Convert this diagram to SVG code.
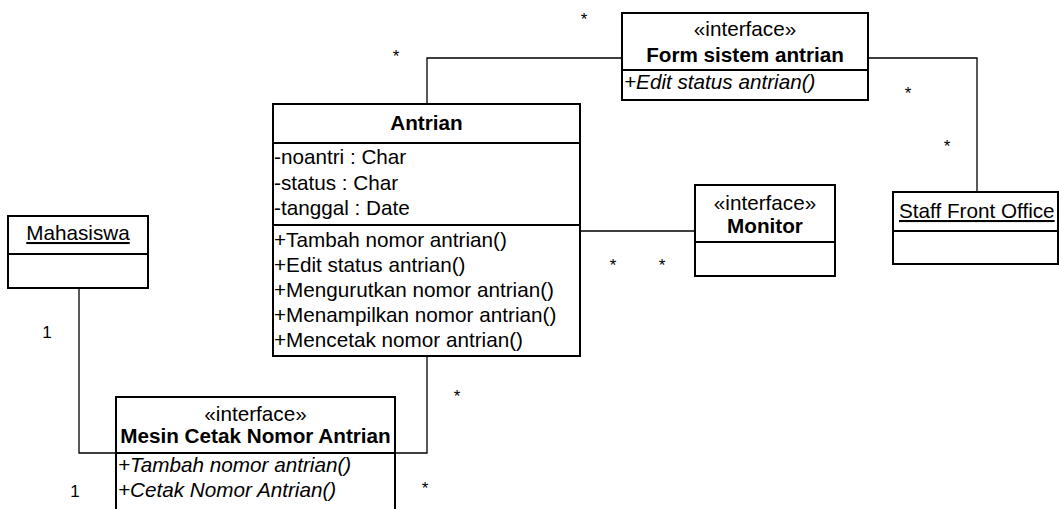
<svg xmlns="http://www.w3.org/2000/svg" width="1059" height="509" viewBox="0 0 1059 509">
<style>
text{font-family:"Liberation Sans",Arial,sans-serif;font-size:20.7px;fill:#000}
.c{text-anchor:middle}
.b{font-weight:bold}
.i{font-style:italic}
.u{text-decoration:underline}
.m{font-size:17px;text-anchor:middle}
.box{fill:#fff;stroke:#000;stroke-width:2}
.div{stroke:#000;stroke-width:2}
.con{fill:none;stroke:#000;stroke-width:1.3}
</style>
<rect width="1059" height="509" fill="#fff"/>
<g id="connectors">
<polyline class="con" points="427,104 427,58 622,58"/>
<polyline class="con" points="868,58 977,58 977,192"/>
<line class="con" x1="580" y1="231" x2="695" y2="231"/>
<polyline class="con" points="79,288 79,453 116,453"/>
<polyline class="con" points="395,453 427,453 427,356"/>
<text class="m" x="584" y="25">*</text>
<text class="m" x="396" y="62">*</text>
<text class="m" x="908" y="99">*</text>
<text class="m" x="947" y="152">*</text>
<text class="m" x="613" y="271">*</text>
<text class="m" x="662" y="271">*</text>
<text class="m" x="457" y="402">*</text>
<text class="m" x="425" y="494">*</text>
<text class="m" x="47" y="338">1</text>
<text class="m" x="75" y="497">1</text>
</g>
<g id="antrian">
<rect class="box" x="273" y="104" width="307" height="252"/>
<line class="div" x1="273" y1="143" x2="580" y2="143"/>
<line class="div" x1="273" y1="225" x2="580" y2="225"/>
<text class="c b" x="426.5" y="130">Antrian</text>
<text x="274" y="164">-noantri : Char</text>
<text x="274" y="190">-status : Char</text>
<text x="274" y="215">-tanggal : Date</text>
<text x="274" y="247">+Tambah nomor antrian()</text>
<text x="274" y="272">+Edit status antrian()</text>
<text x="274" y="297">+Mengurutkan nomor antrian()</text>
<text x="274" y="322">+Menampilkan nomor antrian()</text>
<text x="274" y="347">+Mencetak nomor antrian()</text>
</g>
<g id="form">
<rect class="box" x="622" y="13" width="246" height="87"/>
<line class="div" x1="622" y1="70" x2="868" y2="70"/>
<text class="c" x="745" y="36">«interface»</text>
<text class="c b" x="745" y="62">Form sistem antrian</text>
<text class="i" x="624" y="89">+Edit status antrian()</text>
</g>
<g id="monitor">
<rect class="box" x="695" y="185" width="140" height="91"/>
<line class="div" x1="695" y1="242" x2="835" y2="242"/>
<text class="c" x="765" y="210">«interface»</text>
<text class="c b" x="765" y="233">Monitor</text>
</g>
<g id="staff">
<rect class="box" x="893" y="192" width="165" height="72"/>
<line class="div" x1="893" y1="231" x2="1058" y2="231"/>
<text class="u" x="899" y="218">Staff Front Office</text>
</g>
<g id="mahasiswa">
<rect class="box" x="8" y="216" width="140" height="72"/>
<line class="div" x1="8" y1="254" x2="148" y2="254"/>
<text class="c u" x="78" y="240">Mahasiswa</text>
</g>
<g id="mesin">
<rect class="box" x="116" y="397" width="279" height="120"/>
<line class="div" x1="116" y1="453" x2="395" y2="453"/>
<text class="c" x="255.5" y="421">«interface»</text>
<text class="c b" x="255.5" y="443">Mesin Cetak Nomor Antrian</text>
<text class="i" x="118" y="472">+Tambah nomor antrian()</text>
<text class="i" x="118" y="497">+Cetak Nomor Antrian()</text>
</g>
</svg>
